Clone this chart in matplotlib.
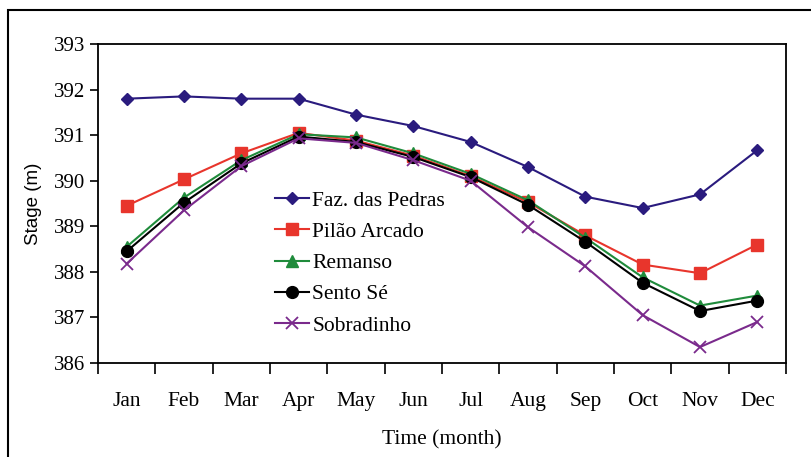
import matplotlib
matplotlib.use("Agg")
import matplotlib.pyplot as plt
from matplotlib.patches import Rectangle
import numpy as np

months = ["Jan", "Feb", "Mar", "Apr", "May", "Jun", "Jul", "Aug", "Sep", "Oct", "Nov", "Dec"]
faz = [391.8, 391.85, 391.8, 391.8, 391.45, 391.2, 390.85, 390.3, 389.65, 389.4, 389.7, 390.67]
pilao = [389.45, 390.03, 390.6, 391.05, 390.88, 390.55, 390.1, 389.53, 388.8, 388.16, 387.97, 388.6]
remanso = [388.55, 389.63, 390.45, 391.02, 390.95, 390.6, 390.15, 389.57, 388.75, 387.88, 387.26, 387.48]
sento = [388.45, 389.52, 390.38, 390.97, 390.85, 390.52, 390.08, 389.47, 388.66, 387.76, 387.14, 387.37]
sobr = [388.18, 389.35, 390.32, 390.93, 390.83, 390.45, 390.0, 388.98, 388.12, 387.05, 386.35, 386.9]
yticks = [386, 387, 388, 389, 390, 391, 392, 393]

serif = "Liberation Serif"
fig = plt.figure(figsize=(8.12, 4.57), dpi=100)
ax = fig.add_axes([98/812, 1-363/457, (786-98)/812, (363-44)/457])

x = np.arange(len(months))
ax.plot(x, faz, color="#2A1B7E", marker="D", ms=6, lw=1.5, label="Faz. das Pedras")
ax.plot(x, pilao, color="#E8352C", marker="s", ms=8, lw=1.5, label="Pilão Arcado")
ax.plot(x, remanso, color="#1F8B3B", marker="^", ms=8, lw=1.5, label="Remanso")
ax.plot(x, sento, color="#000000", marker="o", ms=8.5, lw=1.5, label="Sento Sé")
ax.plot(x, sobr, color="#7A2A8C", marker="x", ms=8, mew=1.3, lw=1.5, label="Sobradinho")

ax.set_xlim(-0.5, 11.5)
ax.set_ylim(386, 393)
ax.set_yticks(yticks)
ax.set_yticklabels([str(v) for v in yticks], fontfamily=serif, fontsize=15)
ax.set_xticks(np.arange(-0.5, 12, 1))
ax.set_xticklabels([])
ax.set_xticks(x, minor=True)
ax.set_xticklabels(months, minor=True, fontfamily=serif, fontsize=15.5)
ax.tick_params(axis="x", which="major", direction="out", length=8, width=1.2)
ax.tick_params(axis="x", which="minor", length=0, pad=21)
ax.tick_params(axis="y", direction="out", length=6, width=1.2, pad=3)
for s in ax.spines.values():
    s.set_linewidth(1.3)

ax.set_xlabel("Time (month)", fontfamily=serif, fontsize=15.5, labelpad=14)
ax.set_ylabel("Stage (m)", fontfamily="Liberation Sans", fontsize=13.5, labelpad=9)

leg = ax.legend(loc="upper left", bbox_to_anchor=((266-98)/688, (363-182)/319), frameon=False,
                prop={"family": serif, "size": 15.5}, handlelength=1.6, handletextpad=0.15,
                labelspacing=0.52, borderaxespad=0)

fig.patches.append(Rectangle((8/812, -0.1), 1.2, 1 - 10/457 + 0.1, transform=fig.transFigure,
                             fill=False, edgecolor="black", lw=1.5))
fig.savefig("out.png", dpi=100)
